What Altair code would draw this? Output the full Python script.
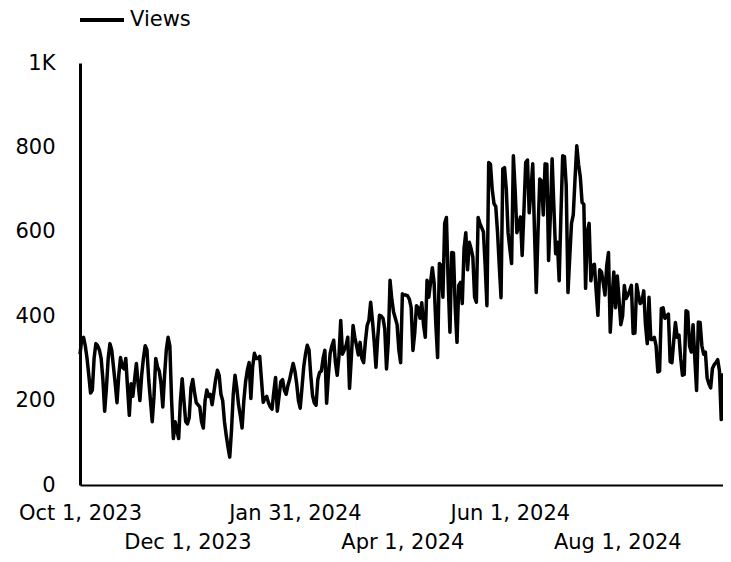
import altair as alt
import pandas as pd

FONT = "DejaVu Sans"

start_date = "2023-10-01"
end_date = "2024-09-30"
tick_dates_row1 = ["2023-10-01", "2024-01-31", "2024-06-01"]
tick_dates_row2 = ["2023-12-01", "2024-04-01", "2024-08-01"]
y_ticks = [0, 200, 400, 600, 800, 1000]
series_name = "Views"

views_oct_nov = [
    310, 345, 350, 330, 300, 260, 218, 225, 300, 335,
    330, 320, 300, 250, 175, 230, 300, 335, 320, 280,
    240, 195, 260, 302, 280, 275, 300, 230, 165, 240,
    210, 250, 288, 240, 200, 260, 300, 330, 320, 250,
    200, 150, 210, 300, 280, 270, 240, 185, 260, 320,
    350, 330, 200, 110, 150, 130, 110, 200, 252, 200,
    150, 145,
]
views_dec_jan = [
    160, 230, 250, 220, 195, 190, 185, 150, 135, 200,
    225, 210, 215, 190, 220, 250, 272, 260, 215, 200,
    150, 118, 90, 66, 130, 215, 260, 230, 190, 165,
    135, 200, 245, 272, 290, 205, 280, 312, 300, 300,
    305, 250, 196, 205, 210, 195, 185, 180, 220, 255,
    175, 210, 245, 250, 225, 215, 235, 250, 270, 288,
    270, 240, 200,
]
views_feb_mar = [
    182, 230, 280, 310, 331, 320, 260, 212, 195, 189,
    250, 267, 270, 300, 319, 194, 260, 312, 330, 343,
    290, 260, 305, 390, 310, 320, 330, 350, 229, 300,
    378, 350, 330, 308, 338, 300, 290, 340, 378, 390,
    433, 390, 340, 279, 350, 402, 400, 395, 370, 275,
    340, 485, 440, 410, 395, 380, 320, 290, 453, 450,
]
views_apr_may = [
    450, 448, 440, 420, 319, 360, 425, 420, 395, 432,
    380, 350, 485, 445, 480, 515, 480, 380, 302, 525,
    520, 445, 620, 634, 480, 362, 551, 550, 420, 338,
    473, 480, 430, 560, 598, 510, 575, 560, 540, 445,
    433, 634, 620, 610, 600, 520, 425, 764, 760, 700,
    667, 660, 600, 520, 444, 749, 752, 700, 598, 560,
    525, 780,
]
views_jun_jul = [
    700, 598, 615, 635, 544, 650, 764, 770, 645, 700,
    761, 600, 456, 600, 725, 720, 640, 761, 760, 532,
    638, 773, 660, 548, 575, 484, 640, 780, 778, 710,
    456, 540, 620, 640, 725, 804, 760, 730, 670, 665,
    466, 600, 620, 484, 520, 523, 460, 402, 510, 505,
    480, 450, 520, 551, 362, 440, 505, 420, 495, 440,
    380,
]
views_aug_sep = [
    400, 473, 442, 450, 460, 473, 359, 360, 475, 450,
    430, 435, 460, 380, 335, 445, 345, 345, 350, 330,
    268, 270, 418, 420, 395, 400, 405, 292, 290, 340,
    385, 350, 355, 300, 260, 262, 413, 410, 330, 315,
    380, 300, 224, 386, 385, 330, 310, 315, 253, 240,
    230, 276, 285, 290, 297, 270, 155, 265,
]

views = views_oct_nov + views_dec_jan + views_feb_mar + views_apr_may + views_jun_jul + views_aug_sep
dates = pd.date_range(start_date, periods=len(views), freq="D").strftime("%Y-%m-%d")
df = pd.DataFrame({"date": list(dates), "views": views, "series": series_name})


def dt(s):
    y, m, d = (int(p) for p in s.split("-"))
    return alt.DateTime(year=y, month=m, date=d, utc=True)


x_scale = alt.Scale(type="utc", domain=[dt(start_date), dt(end_date)], nice=False)
y_scale = alt.Scale(domain=[0, 1000], nice=False)


def x_axis(values, padding, show_domain):
    return alt.Axis(
        orient="bottom",
        values=[dt(s) for s in values],
        title=None,
        ticks=False,
        grid=False,
        domain=show_domain,
        domainColor="black",
        domainWidth=2,
        labelFont=FONT,
        labelFontSize=21,
        labelColor="black",
        labelPadding=padding,
        labelOverlap=False,
        labelFlush=False,
        labelExpr="utcFormat(datum.value, '%b %-d, %Y')",
    )


y_axis = alt.Axis(
    orient="left",
    values=y_ticks,
    title=None,
    ticks=False,
    grid=False,
    domainColor="black",
    domainWidth=3,
    labelFont=FONT,
    labelFontSize=21,
    labelColor="black",
    labelPadding=25,
    labelExpr="datum.value >= 1000 ? '1K' : datum.label",
)

base = alt.Chart(df)

line = base.mark_line(strokeWidth=3.5, strokeJoin="round").encode(
    x=alt.X("date:T", scale=x_scale, axis=x_axis(tick_dates_row1, 17, True)),
    y=alt.Y("views:Q", scale=y_scale, axis=y_axis),
    color=alt.Color(
        "series:N",
        scale=alt.Scale(range=["black"]),
        legend=alt.Legend(
            title=None,
            orient="none",
            legendX=-2,
            legendY=-67,
            symbolType="stroke",
            symbolSize=1936,
            symbolStrokeWidth=4,
            labelFont=FONT,
            labelFontSize=21,
            labelColor="black",
            labelOffset=4,
            padding=0,
        ),
    ),
)

second_row = base.mark_line(opacity=0).encode(
    x=alt.X("date:T", scale=x_scale, axis=x_axis(tick_dates_row2, 46, False)),
    y=alt.Y("views:Q", scale=y_scale, axis=y_axis),
)

chart = (
    alt.layer(line, second_row)
    .resolve_axis(x="independent")
    .properties(
        width=643,
        height=422,
        autosize=alt.AutoSizeParams(type="none"),
        padding={"left": 72, "top": 55, "right": 0, "bottom": 69},
        background="white",
    )
    .configure_view(stroke=None)
)

chart.save("out.html", embed_options={"renderer": "svg", "actions": False})
